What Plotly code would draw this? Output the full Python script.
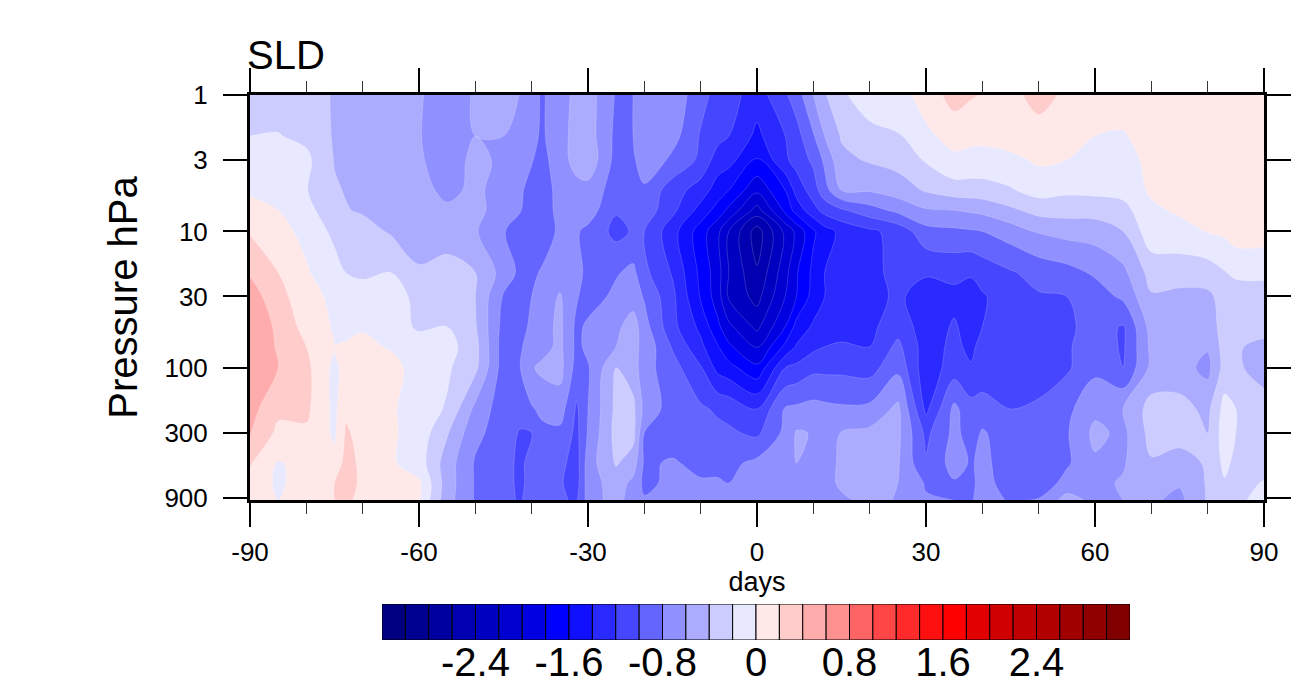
import plotly.graph_objects as go

days = [-90,-85,-80,-75,-73,-70,-65,-60,-55,-50,-45,-42,-40,-38,-35,-32,-30,-25,-22,-20,-15,-10,-7,-5,0,
        5,7,10,12,15,20,25,30,35,38,40,45,50,55,60,65,70,75,80,83,85,90]
pressure = [1,2,3,5,7,10,20,30,50,70,100,200,300,500,700,935]

p1 = [-.3,-.3,-.3,-.42,-.45,-.5,-.5,-.58,-.7,-.58,-.5,-.61,-.75,-.82,-.68,-.55,-.5,-.82,-.8,-.7,-.66,-.93,-1.07,-1.12,-1.3,
      -1.03,-.9,-.6,-.42,-.22,-.13,-.06,.06,.3,.22,.19,.12,.3,.15,.15,.12,.12,.12,.12,.12,.12,.12]
p2 = [-.2,-.19,-.25,-.42,-.48,-.5,-.5,-.59,-.7,-.6,-.6,-.68,-.77,-.82,-.68,-.52,-.5,-.85,-.8,-.7,-.72,-1.02,-1.13,-1.2,-1.45,
      -1.2,-1.08,-.82,-.6,-.38,-.24,-.22,-.03,.05,.05,.05,.1,.09,.09,0,-.02,.1,.12,.12,.12,.12,.12]
p3 = [-.12,-.12,-.15,-.41,-.48,-.5,-.5,-.58,-.68,-.56,-.63,-.72,-.79,-.86,-.68,-.53,-.46,-.87,-.85,-.63,-.85,-1.04,-1.3,-1.33,-1.61,
      -1.24,-1.12,-.96,-.76,-.45,-.38,-.33,-.18,-.03,-.06,-.07,-.05,.03,0,-.04,-.07,.05,.12,.13,.13,.13,.13]
p5 = [-.03,-.1,-.19,-.38,-.41,-.44,-.48,-.52,-.66,-.55,-.7,-.78,-.85,-.93,-.7,-.66,-.67,-.9,-.88,-.85,-1.1,-1.3,-1.49,-1.6,-1.96,
      -1.6,-1.33,-1.1,-.88,-.6,-.58,-.5,-.38,-.3,-.29,-.28,-.22,-.12,-.16,-.15,-.13,.03,.08,.12,.12,.12,.12]
p7 = [.07,0,-.15,-.3,-.39,-.42,-.44,-.5,-.56,-.54,-.7,-.79,-.88,-.95,-.7,-.72,-.7,-.98,-.9,-.88,-1.15,-1.47,-1.68,-1.85,-2.28,
      -1.75,-1.52,-1.27,-1.13,-1.03,-.88,-.75,-.62,-.6,-.57,-.55,-.44,-.33,-.32,-.32,-.27,-.04,.03,.08,.11,.12,.12]
p10 = [.18,.06,-.05,-.25,-.3,-.33,-.42,-.48,-.5,-.58,-.78,-.95,-.95,-.88,-.77,-.78,-.85,-1.06,-.98,-1.0,-1.32,-1.7,-1.95,-2.2,-2.7,
       -2.15,-1.95,-1.63,-1.48,-1.35,-1.24,-1.13,-.87,-.84,-.82,-.8,-.7,-.58,-.53,-.51,-.4,-.08,-.07,.01,.04,.1,.1]
p20 = [.38,.2,.02,-.12,-.2,-.22,-.2,-.38,-.32,-.4,-.68,-.85,-.83,-.78,-.7,-.72,-.87,-.82,-.75,-.95,-1.22,-1.65,-1.91,-2.2,-2.58,
       -2.07,-1.82,-1.55,-1.4,-1.33,-1.27,-1.13,-1.18,-1.15,-1.18,-1.12,-1.02,-.93,-.87,-.77,-.65,-.32,-.31,-.3,-.21,-.16,-.16]
p30 = [.5,.27,.08,-.05,-.1,-.15,-.12,-.25,-.3,-.4,-.82,-.88,-.8,-.72,-.58,-.78,-.9,-.75,-.7,-.82,-1.15,-1.62,-1.9,-2.23,-2.47,
       -2.0,-1.8,-1.52,-1.4,-1.32,-1.26,-1.17,-1.28,-1.25,-1.27,-1.22,-1.1,-1.02,-1.0,-.9,-.76,-.42,-.45,-.44,-.33,-.3,-.28]
p50 = [.52,.37,.12,-.02,-.05,-.02,-.1,-.23,-.2,-.38,-.87,-.85,-.77,-.68,-.55,-.85,-.76,-.65,-.5,-.72,-1.14,-1.45,-1.75,-1.95,-2.25,
       -1.8,-1.53,-1.37,-1.33,-1.3,-1.25,-1.08,-1.3,-1.18,-1.27,-1.2,-1.13,-1.1,-1.05,-.9,-1.02,-.52,-.55,-.5,-.32,-.35,-.33]
p70 = [.55,.38,.2,0,.02,.05,-.02,-.1,-.12,-.33,-.9,-.82,-.72,-.67,-.55,-.85,-.75,-.6,-.55,-.65,-1.02,-1.35,-1.58,-1.76,-2.03,
       -1.55,-1.38,-1.25,-1.2,-1.17,-1.2,-.95,-1.3,-1.15,-1.25,-1.12,-1.14,-1.1,-1.03,-.87,-1.03,-.55,-.52,-.58,-.32,-.38,-.45]
p100 = [.55,.4,.25,-.05,.08,.08,.08,-.1,-.17,-.35,-.9,-.8,-.62,-.55,-.53,-.88,-.82,-.4,-.5,-.72,-.92,-1.18,-1.46,-1.53,-1.75,
        -1.2,-1.15,-1.05,-1.05,-1.05,-1.08,-.85,-1.33,-1.1,-1.18,-1.15,-1.15,-1.15,-1.03,-.85,-1.0,-.55,-.52,-.66,-.32,-.38,-.45]
p200 = [.47,.25,.24,-.05,.17,.12,.03,-.1,-.22,-.65,-.92,-.9,-.82,-.75,-.7,-1.03,-.8,-.35,-.35,-.66,-.9,-.97,-1.03,-1.06,-1.2,
        -.78,-.76,-.73,-.75,-.77,-.75,-.55,-1.25,-.75,-.93,-.9,-1.0,-.95,-.85,-.65,-.6,-.32,-.33,-.45,-.13,-.2,-.35]
p300 = [.43,.15,.17,-.03,.22,.15,.03,-.08,-.38,-.75,-.9,-1.02,-1.0,-.85,-.85,-1.05,-.78,-.33,-.33,-.8,-.9,-.95,-.95,-.97,-1.04,
        -.75,-.58,-.61,-.72,-.59,-.55,-.55,-1.05,-.75,-.88,-.78,-.9,-.9,-.82,-.55,-.65,-.33,-.33,-.4,-.1,-.2,-.38]
p500 = [.22,-.02,.08,.05,.28,.15,.03,-.1,-.5,-.82,-.95,-1.03,-.95,-.95,-.95,-1.08,-.7,-.38,-.5,-.83,-.78,-.85,-.85,-.85,-.75,
        -.72,-.6,-.7,-.72,-.55,-.53,-.58,-.98,-.72,-.82,-.75,-.9,-.9,-.83,-.63,-.62,-.42,-.47,-.38,-.15,-.25,-.3]
p700 = [.12,-.03,.08,.2,.3,.15,.03,.03,-.5,-.82,-.95,-1.03,-.95,-.95,-.98,-1.08,-.7,-.5,-.65,-.85,-.75,-.78,-.78,-.8,-.7,
        -.7,-.7,-.68,-.7,-.55,-.55,-.6,-.82,-.82,-.85,-.72,-.9,-.95,-.72,-.65,-.58,-.55,-.58,-.38,-.22,-.3,-.18]
p900 = [.12,0,.08,.2,.27,.1,0,0,-.52,-.82,-.95,-1.02,-.9,-.93,-.98,-1.02,-.72,-.5,-.72,-.78,-.72,-.72,-.75,-.75,-.7,
        -.7,-.7,-.7,-.7,-.65,-.52,-.62,-.78,-.8,-.82,-.72,-.82,-.78,-.52,-.65,-.6,-.57,-.65,-.38,-.3,-.25,-.12]
z_rows = [p1,p2,p3,p5,p7,p10,p20,p30,p50,p70,p100,p200,p300,p500,p700,p900]

box_colors = ["#000080","#000090","#0000A0","#0000B0","#0000C0","#0000D0","#0000E0","#0000FF",
              "#1010FF","#2A2AFF","#4646FF","#6464FF","#9090FF","#ACACFF","#CCCCFF","#E8E8FF",
              "#FFE8E8","#FFCCCC","#FFACAC","#FF9090","#FF6464","#FF4646","#FF2A2A","#FF1010",
              "#FF0000","#E00000","#D00000","#C00000","#B00000","#A00000","#900000","#800000"]
box_mids = [-3.1,-2.9,-2.7,-2.5,-2.3,-2.1,-1.9,-1.7,-1.5,-1.3,-1.1,-.9,-.7,-.5,-.3,-.1,
            .1,.3,.5,.7,.9,1.1,1.3,1.5,1.7,1.9,2.1,2.3,2.5,2.7,2.9,3.1]
bar_ticks = [-2.4,-1.6,-0.8,0,0.8,1.6,2.4]
bar_labels = ["-2.4","-1.6","-0.8","0","0.8","1.6","2.4"]
x_ticks = [-90,-60,-30,0,30,60,90]
x_labels = ["-90","-60","-30","0","30","60","90"]
y_ticks = [1,3,10,30,100,300,900]

W, H = 1315, 685
OFF = 8  # page margin of the browser
def fx(px): return (px-OFF)/W
def fy(py): return 1-(py-OFF)/H
FONT = "Liberation Sans, Arial, sans-serif"
n = len(box_colors)
scale = [[i/(n-1), c] for i, c in enumerate(box_colors)]

fig = go.Figure()
fig.add_trace(go.Contour(
    x=days, y=pressure, z=z_rows, colorscale=scale, showscale=False, autocontour=False,
    contours=dict(start=-3.0, end=3.0, size=0.2, coloring="fill", showlines=True),
    line=dict(color="rgba(255,255,255,0.35)", width=0.5, smoothing=1),
    hoverinfo="skip"))
fig.add_trace(go.Bar(
    x=box_mids, y=[1]*n, width=0.2, xaxis="x2", yaxis="y2",
    marker=dict(color=box_colors, line=dict(color="black", width=1)), hoverinfo="skip"))

fig.update_layout(
    width=W, height=H, margin=dict(l=0, r=0, t=0, b=0, autoexpand=False), paper_bgcolor="white", plot_bgcolor="white",
    showlegend=False, font=dict(family=FONT, color="black"),
    xaxis=dict(domain=[fx(250), fx(1264)], anchor="y", range=[-90, 90], tickmode="array", tickvals=x_ticks, ticktext=x_labels,
               ticks="outside", ticklen=24, tickwidth=2, tickcolor="black", showline=True, linewidth=3, linecolor="black",
               mirror="allticks", showgrid=False, zeroline=False, tickfont=dict(size=26), ticklabelstandoff=3,
               minor=dict(dtick=10, ticks="outside", ticklen=11, tickwidth=1, tickcolor="#333"),
               automargin=False, title=dict(text="days", font=dict(size=27), standoff=2)),
    yaxis=dict(domain=[fy(500), fy(95)], anchor="x", type="log", range=[2.969, 0], tickmode="array", tickvals=y_ticks,
               ticktext=[str(v) for v in y_ticks], ticks="outside", ticklen=24, tickwidth=2, tickcolor="black",
               showline=True, linewidth=3, linecolor="black", mirror="allticks", showgrid=False, zeroline=False,
               tickfont=dict(size=26), ticklabelstandoff=10, automargin=False,
               title=dict(text="Pressure hPa", font=dict(size=40), standoff=15)),
    xaxis2=dict(domain=[fx(382), fx(1130)], anchor="y2", range=[-3.2, 3.2], tickmode="array", tickvals=bar_ticks, ticktext=bar_labels,
                ticks="", showgrid=False, zeroline=False, showline=False, tickfont=dict(size=40), automargin=False,
                ticklabelstandoff=-5),
    yaxis2=dict(domain=[fy(640), fy(604)], anchor="x2", range=[0, 1], showticklabels=False, ticks="",
                showgrid=False, zeroline=False),
    annotations=[dict(text="SLD", x=fx(245), y=fy(79), xref="paper", yref="paper", xanchor="left", yanchor="bottom",
                      showarrow=False, font=dict(size=40))],
)
fig.write_html("out.html")
